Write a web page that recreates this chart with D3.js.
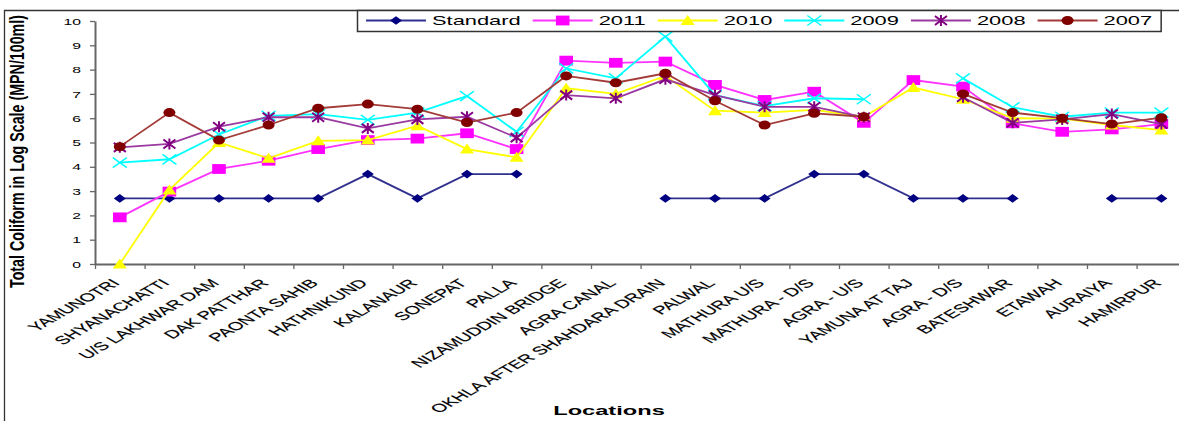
<!DOCTYPE html>
<html><head><meta charset="utf-8">
<script src="https://cdn.jsdelivr.net/npm/d3@7/dist/d3.min.js"></script>
<style>body{margin:0;background:#fff}svg{display:block}</style>
</head><body>
<svg id="c" width="1179" height="421"></svg>
<script>
// ---------- data ----------
const locations = ["YAMUNOTRI","SHYANACHATTI","U/S LAKHWAR DAM","DAK PATTHAR","PAONTA SAHIB","HATHNIKUND","KALANAUR","SONEPAT","PALLA","NIZAMUDDIN BRIDGE","AGRA CANAL","OKHLA AFTER SHAHDARA DRAIN","PALWAL","MATHURA U/S","MATHURA - D/S","AGRA - U/S","YAMUNA AT TAJ","AGRA - D/S","BATESHWAR","ETAWAH","AURAIYA","HAMIRPUR"];
const seriesNames = ["Standard","2011","2010","2009","2008","2007"];
const standard = [2.7,2.7,2.7,2.7,2.7,3.7,2.7,3.7,3.7,null,null,2.7,2.7,2.7,3.7,3.7,2.7,2.7,2.7,null,2.7,2.7];
const y2011 = [1.92,2.98,3.91,4.25,4.73,5.10,5.16,5.38,4.73,8.37,8.28,8.33,7.37,6.75,7.09,5.81,7.57,7.30,5.79,5.44,5.54,5.76];
const y2010 = [0,3.05,5.00,4.35,5.07,5.10,5.69,4.73,4.39,7.23,7.00,7.74,6.31,6.23,6.34,6.06,7.26,6.78,6.00,5.98,5.72,5.51];
const y2009 = [4.17,4.31,5.33,6.10,6.17,5.93,6.23,6.91,5.44,8.05,7.64,9.36,6.95,6.50,6.82,6.78,null,7.64,6.45,6.06,6.23,6.23];
const y2008 = [4.80,4.94,5.65,6.04,6.04,5.58,5.95,6.06,5.20,6.95,6.82,7.60,6.95,6.47,6.47,6.04,null,6.86,5.81,5.95,6.17,5.76];
const y2007 = [4.83,6.23,5.10,5.72,6.41,6.58,6.37,5.82,6.23,7.74,7.46,7.85,6.72,5.72,6.20,6.06,null,7.00,6.23,6.00,5.76,6.02];
const yTicks = [0,1,2,3,4,5,6,7,8,9,10];
const xTitle = "Locations";
const yTitle = "Total Coliform in Log Scale (MPN/100ml)";

// ---------- styles ----------
const seriesValues = [standard, y2011, y2010, y2009, y2008, y2007];
const lineColors = ["#30308f","#ff33ff","#ffff00","#00ffff","#9a3aa0","#a33b38"];
const markColors = ["#000080","#ff00ff","#ffff00","#00ffff","#800080","#800000"];
const markTypes = ["diamond","square","triangle","x","star","circle"];
const FONT = "'Liberation Sans', Arial, sans-serif";
const SX = 1.75; // horizontal stretch of the reference image

const svg = d3.select("#c");
const W = 1179, H = 421;

// outer frame
svg.append("path").attr("d", `M4.5,${H+2} L4.5,10.5 L${W+2},10.5`)
  .attr("fill","none").attr("stroke","#333").attr("stroke-width",1.3);

// scales
const x0 = 95, step = 49.6;
const x = d3.scaleBand().domain(locations).range([x0, x0 + step*locations.length]);
const xEdge = d3.scaleLinear().domain([0, locations.length]).range([x0, x0 + step*locations.length]);
const y = d3.scaleLinear().domain([0,10]).range([264, 21]);
const cx = d => x(d) + x.bandwidth()/2;

// y axis
const gy = svg.append("g").attr("transform",`translate(${x0},0)`)
  .call(d3.axisLeft(y).tickValues(yTicks).tickSize(5).tickSizeOuter(0).tickFormat(d3.format("d")));
gy.select(".domain").attr("stroke","#666").attr("stroke-width",2);
gy.selectAll(".tick line").attr("stroke","#666").attr("stroke-width",1.3);
gy.selectAll(".tick text").attr("x",null).attr("dy","0.35em")
  .attr("transform",`translate(-14,0) scale(${SX},1)`)
  .attr("font-family",FONT).attr("font-size",9).attr("fill","#000").attr("text-anchor","end");

// x axis
const gx = svg.append("g").attr("transform","translate(0,264)")
  .call(d3.axisBottom(xEdge).tickValues(d3.range(0, locations.length+1)).tickSize(5).tickSizeOuter(0).tickFormat(""));
gx.select(".domain").attr("stroke","#666").attr("stroke-width",2);
gx.selectAll(".tick line").attr("stroke","#666").attr("stroke-width",1.3);

svg.append("g").selectAll("text").data(locations).join("text")
  .attr("transform", d => `translate(${cx(d)-4},281) scale(${SX},1) rotate(-45)`)
  .attr("dy","0.35em").attr("text-anchor","end")
  .attr("font-family",FONT).attr("font-size",11.5).attr("fill","#000")
  .attr("stroke","#000").attr("stroke-width",0.15)
  .text(d => d);

// titles
svg.append("text").attr("transform",`translate(609,415) scale(${SX},1)`)
  .attr("text-anchor","middle").attr("font-family",FONT).attr("font-weight","bold")
  .attr("font-size",13.5).text(xTitle);
svg.append("text").attr("transform",`translate(24,151.5) scale(${SX},1) rotate(-90)`)
  .attr("text-anchor","middle").attr("font-family",FONT).attr("font-weight","bold")
  .attr("font-size",11.5).attr("textLength",273).attr("lengthAdjust","spacingAndGlyphs")
  .text(yTitle);

// markers
function marker(g, type, color, px, py){
  switch(type){
    case "diamond":
      g.append("path").attr("d",`M${px},${py-4.3} L${px+6},${py} L${px},${py+4.3} L${px-6},${py}Z`).attr("fill",color); break;
    case "square":
      g.append("rect").attr("x",px-6.8).attr("y",py-4.9).attr("width",13.6).attr("height",9.8).attr("fill",color); break;
    case "triangle":
      g.append("path").attr("d",`M${px},${py-5.5} L${px+7},${py+4.5} L${px-7},${py+4.5}Z`).attr("fill",color); break;
    case "circle":
      g.append("ellipse").attr("cx",px).attr("cy",py).attr("rx",6).attr("ry",4.5).attr("fill",color); break;
    case "x":
      g.append("path").attr("d",`M${px-7},${py-5} L${px+7},${py+5} M${px-7},${py+5} L${px+7},${py-5}`)
        .attr("stroke",color).attr("stroke-width",1.5).attr("fill","none"); break;
    case "star":
      g.append("path").attr("d",`M${px-6},${py-4.5} L${px+6},${py+4.5} M${px-6},${py+4.5} L${px+6},${py-4.5} M${px},${py-5.5} L${px},${py+5.5}`)
        .attr("stroke",color).attr("stroke-width",2).attr("fill","none"); break;
  }
}

// series
const line = d3.line().defined(d => d.v != null).x(d => cx(d.loc)).y(d => y(d.v));
seriesValues.forEach((vals, i) => {
  const pts = locations.map((loc, j) => ({loc, v: vals[j]}));
  const g = svg.append("g");
  g.append("path").datum(pts).attr("d", line).attr("fill","none")
    .attr("stroke", lineColors[i]).attr("stroke-width", 1.8);
  pts.filter(d => d.v != null).forEach(d => marker(g, markTypes[i], markColors[i], cx(d.loc), y(d.v)));
});

// legend
const lg = svg.append("g");
const box = lg.append("rect").attr("x",357.5).attr("y",10.5).attr("height",21)
  .attr("fill","#fff").attr("stroke","#333").attr("stroke-width",1.5);
let cur = 366;
seriesNames.forEach((name, i) => {
  const ly = 20.5;
  lg.append("line").attr("x1",cur).attr("x2",cur+60).attr("y1",ly).attr("y2",ly)
    .attr("stroke",lineColors[i]).attr("stroke-width",1.8);
  marker(lg, markTypes[i], markColors[i], cur+30, ly);
  const t = lg.append("text").attr("transform",`translate(${cur+66},25) scale(${SX},1)`)
    .attr("font-family",FONT).attr("font-size",12.5).attr("fill","#000").text(name);
  const w = t.node().getComputedTextLength()*SX;
  cur = cur + 66 + w + 12;
});
box.attr("width", cur - 357.5 - 3);
</script>
</body></html>
